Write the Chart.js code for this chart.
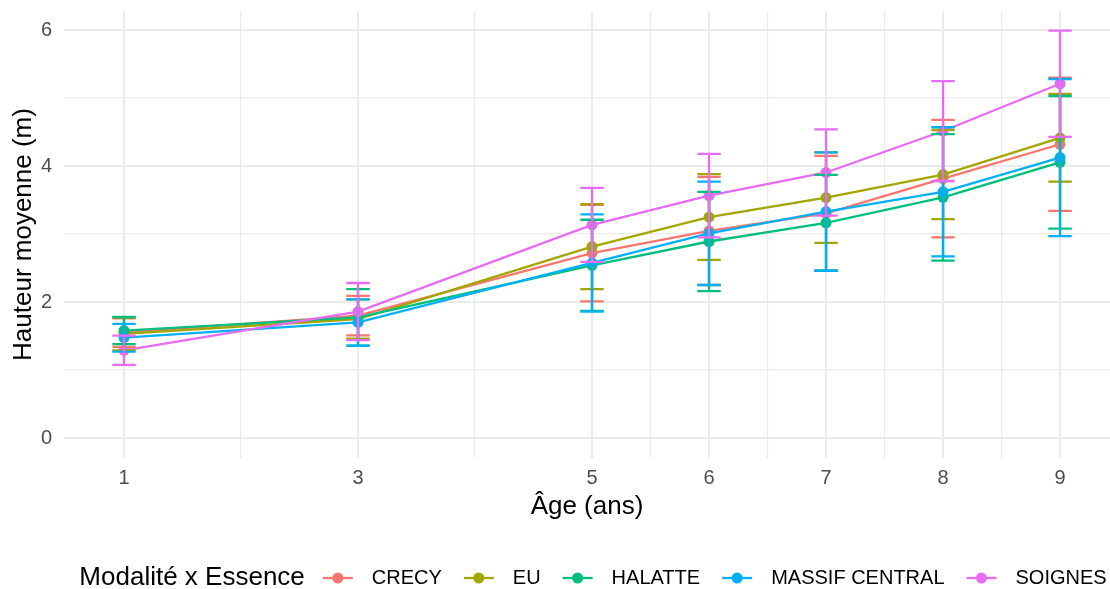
<!DOCTYPE html>
<html lang="fr">
<head>
<meta charset="UTF-8">
<title>Hauteur moyenne par âge</title>
<script src="https://cdn.jsdelivr.net/npm/chart.js"></script>
<style>
  html, body { margin: 0; padding: 0; background: #fff; }
</style>
</head>
<body>
<canvas id="myChart" width="1110" height="589"></canvas>
<script>
// ages (x) and series
const ages = [1, 3, 5, 6, 7, 8, 9];
const seriesNames = ['CRECY', 'EU', 'HALATTE', 'MASSIF CENTRAL', 'SOIGNES'];
const seriesColors = ['#F8766D', '#A3A500', '#00BF7D', '#00B0F6', '#E76BF3'];

// mean height (m) and standard deviation per age
const crecyMean   = [1.55, 1.80, 2.72, 3.045, 3.305, 3.815, 4.32];
const crecySd     = [0.21, 0.29, 0.71, 0.795, 0.845, 0.865, 0.98];
const euMean      = [1.53, 1.75, 2.815, 3.25, 3.535, 3.875, 4.415];
const euSd        = [0.24, 0.29, 0.625, 0.63, 0.665, 0.655, 0.645];
const halatteMean = [1.58, 1.775, 2.54, 2.89, 3.165, 3.54, 4.055];
const halatteSd   = [0.20, 0.415, 0.67, 0.73, 0.705, 0.93, 0.975];
const massifMean  = [1.475, 1.70, 2.575, 3.01, 3.33, 3.62, 4.125];
const massifSd    = [0.205, 0.34, 0.715, 0.76, 0.87, 0.95, 1.155];
const soignesMean = [1.29, 1.86, 3.135, 3.565, 3.905, 4.515, 5.21];
const soignesSd   = [0.215, 0.42, 0.545, 0.615, 0.635, 0.735, 0.78];

const means = [crecyMean, euMean, halatteMean, massifMean, soignesMean];
const sds = [crecySd, euSd, halatteSd, massifSd, soignesSd];

// axis breaks
const xMajor = [1, 3, 5, 6, 7, 8, 9];
const xMinor = [2, 4, 5.5, 6.5, 7.5, 8.5];
const yMajor = [0, 2, 4, 6];
const yMinor = [1, 3, 5];

const FONT = '"Liberation Sans", Arial, sans-serif';
const capHalf = 0.1; // half width of error bar caps, in x units

// error bars drawn from the data through the chart scales
const errorBars = {
  id: 'errorBars',
  afterDatasetsDraw(chart) {
    const { ctx, scales: { x, y } } = chart;
    ctx.save();
    ctx.lineWidth = 2.3;
    ctx.lineCap = 'butt';
    chart.data.datasets.forEach((ds, i) => {
      ctx.strokeStyle = ds.borderColor;
      ds.data.forEach((p, j) => {
        const sd = sds[i][j];
        const px = x.getPixelForValue(p.x);
        const x0 = x.getPixelForValue(p.x - capHalf);
        const x1 = x.getPixelForValue(p.x + capHalf);
        const yTop = y.getPixelForValue(p.y + sd);
        const yBot = y.getPixelForValue(p.y - sd);
        ctx.beginPath();
        ctx.moveTo(px, yTop); ctx.lineTo(px, yBot);
        ctx.moveTo(x0, yTop); ctx.lineTo(x1, yTop);
        ctx.moveTo(x0, yBot); ctx.lineTo(x1, yBot);
        ctx.stroke();
      });
    });
    ctx.restore();
  }
};

// ggplot-like legend: title on the left, items in one row
const inlineLegend = {
  id: 'inlineLegend',
  afterDraw(chart) {
    const ctx = chart.ctx;
    const yMid = 578;
    const title = 'Modalité x Essence';
    ctx.save();
    ctx.textBaseline = 'middle';
    ctx.textAlign = 'left';
    ctx.font = '26px ' + FONT;
    const titleW = ctx.measureText(title).width;
    ctx.font = '20px ' + FONT;
    const keyW = 30, keyGap = 19, itemGap = 22, titleGap = 18;
    const labelW = seriesNames.map(n => ctx.measureText(n).width);
    let total = titleW + titleGap;
    labelW.forEach((w, i) => { total += keyW + keyGap + w + (i < labelW.length - 1 ? itemGap : 0); });
    let xPos = 593 - total / 2;

    ctx.fillStyle = '#000';
    ctx.font = '26px ' + FONT;
    ctx.fillText(title, xPos, yMid);
    xPos += titleW + titleGap;

    ctx.font = '20px ' + FONT;
    chart.data.datasets.forEach((ds, i) => {
      ctx.strokeStyle = ds.borderColor;
      ctx.fillStyle = ds.borderColor;
      ctx.lineWidth = 2.3;
      ctx.beginPath();
      ctx.moveTo(xPos, yMid); ctx.lineTo(xPos + keyW, yMid);
      ctx.stroke();
      ctx.beginPath();
      ctx.arc(xPos + keyW / 2, yMid, 5.5, 0, Math.PI * 2);
      ctx.fill();
      xPos += keyW + keyGap;
      ctx.fillStyle = '#000';
      ctx.fillText(seriesNames[i], xPos, yMid);
      xPos += labelW[i] + itemGap;
    });
    ctx.restore();
  }
};

const datasets = seriesNames.map((name, i) => ({
  label: name,
  data: ages.map((a, j) => ({ x: a, y: means[i][j] })),
  borderColor: seriesColors[i],
  backgroundColor: seriesColors[i],
  borderWidth: 2.3,
  pointRadius: 5.5,
  pointBorderWidth: 0,
  pointHoverRadius: 5.5,
  tension: 0,
  order: seriesNames.length - i
}));

const gridWidth = (major) => (c) => (c.tick && major.includes(c.tick.value) ? 2 : 1.2);

// keep the plot panel exactly where the axes put it (no label overhang padding)
const noPad = (scale) => {
  scale.paddingLeft = 0; scale.paddingRight = 0;
  scale.paddingTop = 0; scale.paddingBottom = 0;
};

const ctx = document.getElementById('myChart').getContext('2d');
const myChart = new Chart(ctx, {
  type: 'line',
  data: { datasets },
  options: {
    responsive: false,
    animation: false,
    events: [],
    layout: { autoPadding: false, padding: { top: 11, right: 0, bottom: 0, left: 0 } },
    plugins: {
      legend: { display: false },
      tooltip: { enabled: false }
    },
    scales: {
      x: {
        type: 'linear',
        min: 0.487,
        max: 9.427,
        afterBuildTicks: (scale) => {
          scale.ticks = xMajor.concat(xMinor).sort((a, b) => a - b).map(v => ({ value: v }));
        },
        afterFit: (scale) => { scale.height = 131; noPad(scale); },
        border: { display: false },
        grid: { color: '#EBEBEB', lineWidth: gridWidth(xMajor), drawTicks: false },
        ticks: {
          autoSkip: false,
          maxRotation: 0,
          padding: 8,
          color: '#4D4D4D',
          font: { family: FONT, size: 20 },
          callback: (v) => (xMajor.includes(v) ? String(v) : '')
        },
        title: {
          display: true,
          text: 'Âge (ans)',
          color: '#000',
          font: { family: FONT, size: 26 },
          padding: { top: 0, bottom: 67 }
        }
      },
      y: {
        min: -0.294,
        max: 6.28,
        afterBuildTicks: (scale) => {
          scale.ticks = yMajor.concat(yMinor).sort((a, b) => a - b).map(v => ({ value: v }));
        },
        afterFit: (scale) => { scale.width = 64; noPad(scale); },
        border: { display: false },
        grid: { color: '#EBEBEB', lineWidth: gridWidth(yMajor), drawTicks: false },
        ticks: {
          autoSkip: false,
          padding: 12,
          color: '#4D4D4D',
          font: { family: FONT, size: 20 },
          callback: (v) => (yMajor.includes(v) ? String(v) : '')
        },
        title: {
          display: true,
          text: 'Hauteur moyenne (m)',
          color: '#000',
          font: { family: FONT, size: 26 },
          padding: { top: 8, bottom: 0 }
        }
      }
    }
  },
  plugins: [errorBars, inlineLegend]
});
</script>
</body>
</html>
